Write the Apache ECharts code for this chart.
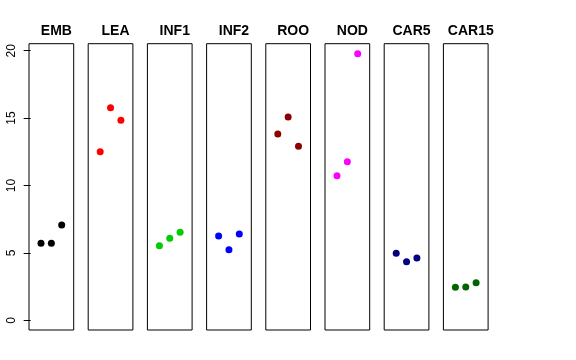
<!DOCTYPE html>
<html><head><meta charset="utf-8">
<script src="https://cdn.jsdelivr.net/npm/echarts@6/dist/echarts.min.js"></script>
<style>html,body{margin:0;padding:0;background:#fff}#c{width:576px;height:360px}</style>
</head><body><div id="c"></div>
<script>
var panels = ["EMB","LEA","INF1","INF2","ROO","NOD","CAR5","CAR15"];
var colors = ["#000000","#FF0000","#00CD00","#0000FF","#8B0000","#FF00FF","#000080","#006400"];
var xPos = [1, 2, 3];
var EMB = [5.71, 5.71, 7.07];
var LEA = [12.51, 15.77, 14.84];
var INF1 = [5.53, 6.08, 6.53];
var INF2 = [6.25, 5.24, 6.40];
var ROO = [13.82, 15.08, 12.91];
var NOD = [10.73, 11.77, 19.78];
var CAR5 = [4.97, 4.35, 4.62];
var CAR15 = [2.45, 2.47, 2.79];
var yTicks = [0, 5, 10, 15, 20];
var values = [EMB, LEA, INF1, INF2, ROO, NOD, CAR5, CAR15];

var grids = [], xAxes = [], yAxes = [], series = [], titles = [];
var left0 = 29, step = 59.2, pw = 44.7, gTop = 43.7, gBottom = 360 - 330;
panels.forEach(function (name, i) {
  var l = left0 + i * step;
  grids.push({left: l, top: gTop, width: pw, bottom: gBottom, show: true,
    borderColor: '#000', borderWidth: 1, backgroundColor: 'transparent'});
  titles.push({text: name, left: l + pw / 2, top: 19, textAlign: 'center',
    textStyle: {fontFamily: 'Liberation Sans', fontWeight: 'bold', fontSize: 14, color: '#000'}});
  xAxes.push({gridIndex: i, type: 'value', min: -0.16, max: 4.16, show: false});
  yAxes.push({gridIndex: i, type: 'value', min: -0.72, max: 20.52,
    show: i === 0,
    axisLine: {show: false},
    splitLine: {show: false},
    axisTick: {show: i === 0, length: 7, lineStyle: {color: '#000'},
      customValues: yTicks},
    axisLabel: {show: i === 0, rotate: 90, margin: 11, fontSize: 12,
      fontFamily: 'Liberation Sans', color: '#000', customValues: yTicks}
  });
  series.push({type: 'scatter', xAxisIndex: i, yAxisIndex: i,
    symbol: 'circle', symbolSize: 7,
    itemStyle: {color: colors[i], opacity: 1},
    data: xPos.map(function (x, k) { return [x, values[i][k]]; }),
    silent: true, animation: false});
});
var chart = echarts.init(document.getElementById('c'), null, {renderer: 'canvas'});
chart.setOption({
  animation: false,
  title: titles,
  grid: grids,
  xAxis: xAxes,
  yAxis: yAxes,
  series: series
});
</script></body></html>
